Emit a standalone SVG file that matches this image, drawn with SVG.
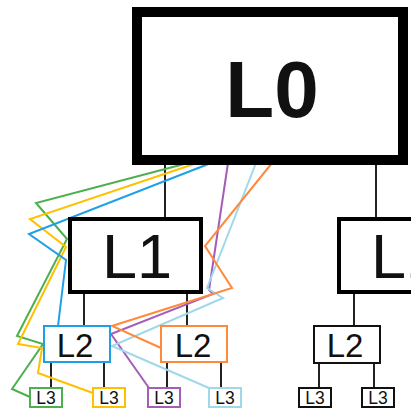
<svg xmlns="http://www.w3.org/2000/svg" width="411" height="409" viewBox="0 0 411 409">
<style>
.bg{fill:#ffffff}
.tree{stroke:#222;stroke-width:2;fill:none}
.c{fill:none;stroke-width:2;stroke-linejoin:miter}
.box{fill:#ffffff}
.t{font-family:"Liberation Sans",Arial,sans-serif;fill:#111;text-anchor:middle}
.t0{font-size:80px;font-weight:bold}
.t1{font-size:63px}
.t2{font-size:33px}
.t3{font-size:17.5px}
</style>
<rect class="bg" x="0" y="0" width="411" height="409"/>
<g id="connectors">
  <line class="tree" x1="165" y1="160" x2="165" y2="218"/>
  <line class="tree" x1="376" y1="160" x2="376" y2="218"/>
  <line class="tree" x1="84" y1="292" x2="84" y2="326"/>
  <line class="tree" x1="187" y1="292" x2="187" y2="326"/>
  <line class="tree" x1="354" y1="292" x2="354" y2="326"/>
  <line class="tree" x1="51" y1="362" x2="51" y2="388"/>
  <line class="tree" x1="104" y1="362" x2="104" y2="388"/>
  <line class="tree" x1="167" y1="362" x2="167" y2="388"/>
  <line class="tree" x1="221" y1="362" x2="221" y2="388"/>
  <line class="tree" x1="319" y1="362" x2="319" y2="388"/>
  <line class="tree" x1="374" y1="362" x2="374" y2="388"/>
  <polyline class="c" stroke="#4CAF50" points="188,163 36,203 67,239 17,336 43,344 12,389 30,397"/>
  <polyline class="c" stroke="#FFC000" points="197,163 30,219 66,247 18,344 42,348 38,373 93,393"/>
  <polyline class="c" stroke="#1EA0E8" points="211,163 29,234 66,260 58,326"/>
  <polyline class="c" stroke="#A55DB8" points="228,163 209,290 213,294 111,334 149,388"/>
  <polyline class="c" stroke="#A0D8EA" points="256,163 207,288 223,298 112,346 209,388"/>
  <polyline class="c" stroke="#FF8A3C" points="272,163 205,246 232,288 112,326 161,348"/>
</g>
<g id="L0">
  <rect class="box" x="137" y="12" width="266" height="148" stroke="#000" stroke-width="10"/>
  <text class="t t0" x="272" y="117">L0</text>
</g>
<g id="L1a">
  <rect class="box" x="70" y="219" width="131" height="73" stroke="#000" stroke-width="4"/>
  <text class="t t1" x="137" y="278">L1</text>
</g>
<g id="L1b">
  <rect class="box" x="339" y="219" width="131" height="73" stroke="#000" stroke-width="4"/>
  <text class="t t1" x="406" y="278">L1</text>
</g>
<g id="L2a">
  <rect class="box" x="44" y="326" width="66" height="36" stroke="#1EA0E8" stroke-width="2"/>
  <text class="t t2" x="75" y="357">L2</text>
</g>
<g id="L2b">
  <rect class="box" x="161" y="326" width="66" height="36" stroke="#FF8A3C" stroke-width="2"/>
  <text class="t t2" x="193" y="357">L2</text>
</g>
<g id="L2c">
  <rect class="box" x="314" y="326" width="66" height="37" stroke="#111" stroke-width="2"/>
  <text class="t t2" x="345" y="357">L2</text>
</g>
<g id="L3a">
  <rect class="box" x="30" y="388" width="32" height="19" stroke="#4CAF50" stroke-width="2"/>
  <text class="t t3" x="46" y="404">L3</text>
</g>
<g id="L3b">
  <rect class="box" x="93" y="388" width="32" height="19" stroke="#FFC000" stroke-width="2"/>
  <text class="t t3" x="109" y="404">L3</text>
</g>
<g id="L3c">
  <rect class="box" x="148" y="388" width="32" height="19" stroke="#A55DB8" stroke-width="2"/>
  <text class="t t3" x="164" y="404">L3</text>
</g>
<g id="L3d">
  <rect class="box" x="209" y="388" width="32" height="19" stroke="#A0D8EA" stroke-width="2"/>
  <text class="t t3" x="225" y="404">L3</text>
</g>
<g id="L3e">
  <rect class="box" x="299" y="388" width="32" height="19" stroke="#111" stroke-width="2"/>
  <text class="t t3" x="315" y="404">L3</text>
</g>
<g id="L3f">
  <rect class="box" x="362" y="388" width="32" height="19" stroke="#111" stroke-width="2"/>
  <text class="t t3" x="378" y="404">L3</text>
</g>
</svg>
